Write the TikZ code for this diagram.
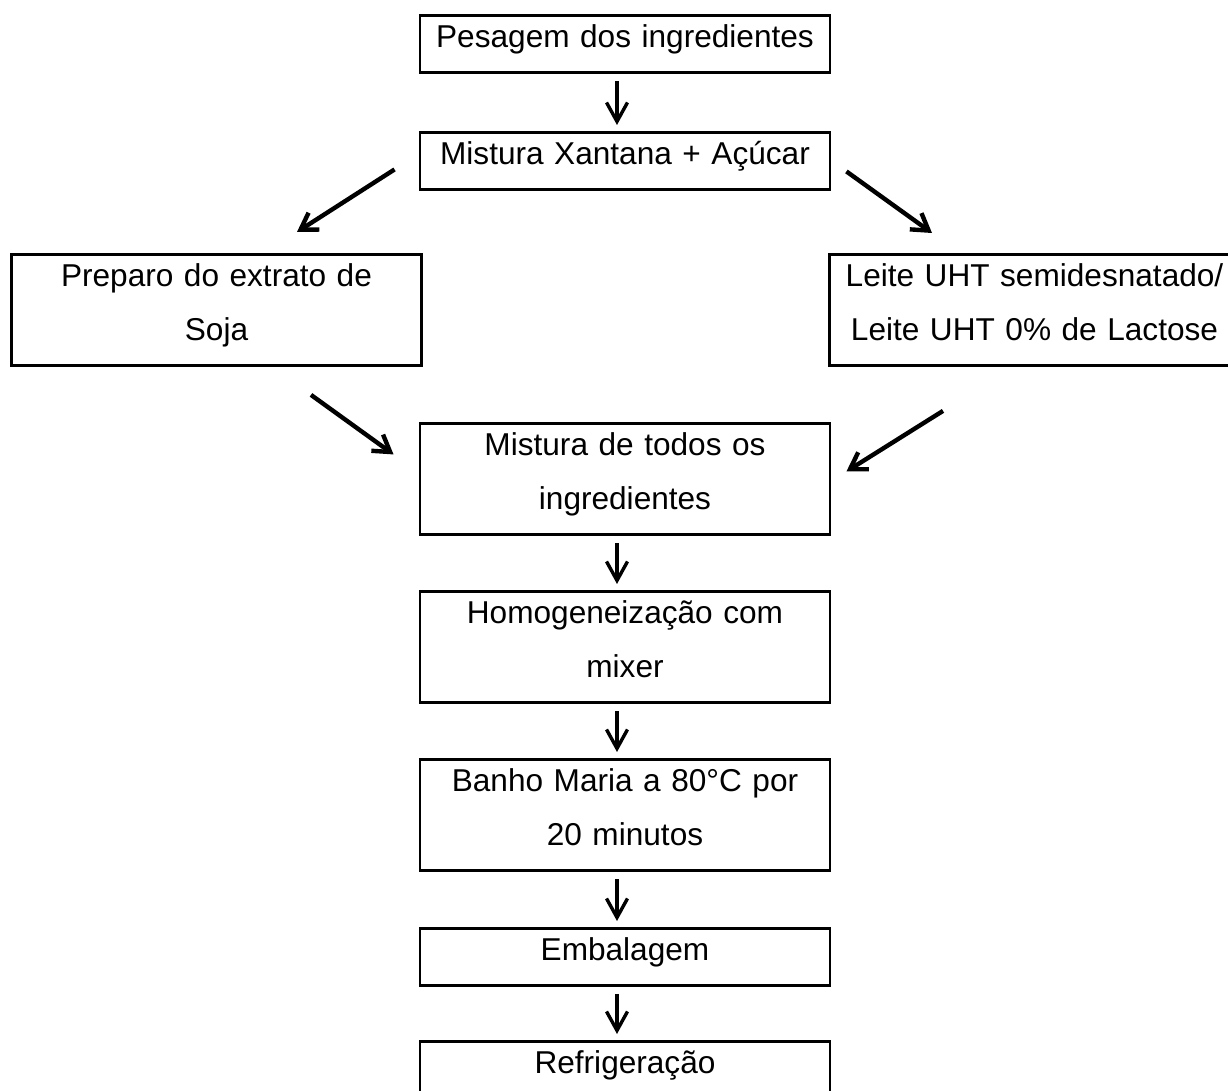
\documentclass[tikz,border=0pt]{standalone}
\usepackage{fontspec}
\setmainfont{Liberation Sans}
\usetikzlibrary{arrows.meta,calc}

\tikzset{
  etapa/.style={draw, line width=1.45pt, inner sep=0pt, text width=205pt, align=center,
    font=\fontsize{15.8}{27}\selectfont,
    execute at begin node={\rule{0pt}{16pt}},
    execute at end node={\rule[-12.5pt]{0pt}{12.5pt}}},
  seta/.style={line width=1.7pt, -{Straight Barb[length=9.5pt,width=10.5pt]}},
  seta diag/.style={line width=2.2pt, -{Straight Barb[length=8pt,width=10pt]}}
}

\begin{document}
\begin{tikzpicture}[x=0.5pt,y=-0.5pt]
\useasboundingbox (0,0) rectangle (1228,1091);
\clip (0,0) rectangle (1228,1091);

% etapas
\node[etapa, anchor=north] (pesagem) at (625,14) {Pesagem dos ingredientes};
\node[etapa, anchor=north] (xantana) at (625,131) {Mistura Xantana + Açúcar};
\node[etapa, anchor=north] (soja) at (216.5,253) {Preparo do extrato de\\Soja};
\node[etapa, anchor=north] (leite) at (1034.5,253) {Leite UHT semidesnatado/\\Leite UHT 0\% de Lactose};
\node[etapa, anchor=north] (todos) at (625,422) {Mistura de todos os\\ingredientes};
\node[etapa, anchor=north] (homog) at (625,590) {Homogeneização com\\mixer};
\node[etapa, anchor=north] (banho) at (625,758) {Banho Maria a 80°C por\\20 minutos};
\node[etapa, anchor=north] (embal) at (625,927) {Embalagem};
\node[etapa, anchor=north] (refrig) at (625,1040) {Refrigeração};

% setas verticais
\foreach \a/\b in {pesagem/xantana, todos/homog, homog/banho, banho/embal, embal/refrig} {
  \draw[seta] ($(\a.south)+(-8,7)$) -- ($(\b.north)+(-8,-6)$);
}

% setas diagonais
\draw[seta diag] ($(xantana.west)+(-24,8.5)$) -- ($(soja.north)+(80.5,-21)$);
\draw[seta diag] ($(xantana.east)+(15,10.5)$) -- ($(leite.north)+(-102.5,-20)$);
\draw[seta diag] ($(soja.south)+(94.5,28)$) -- ($(todos.west)+(-25,-24.5)$);
\draw[seta diag] ($(leite.south)+(-91.5,44)$) -- ($(todos.east)+(15,-7.5)$);

\end{tikzpicture}
\end{document}
